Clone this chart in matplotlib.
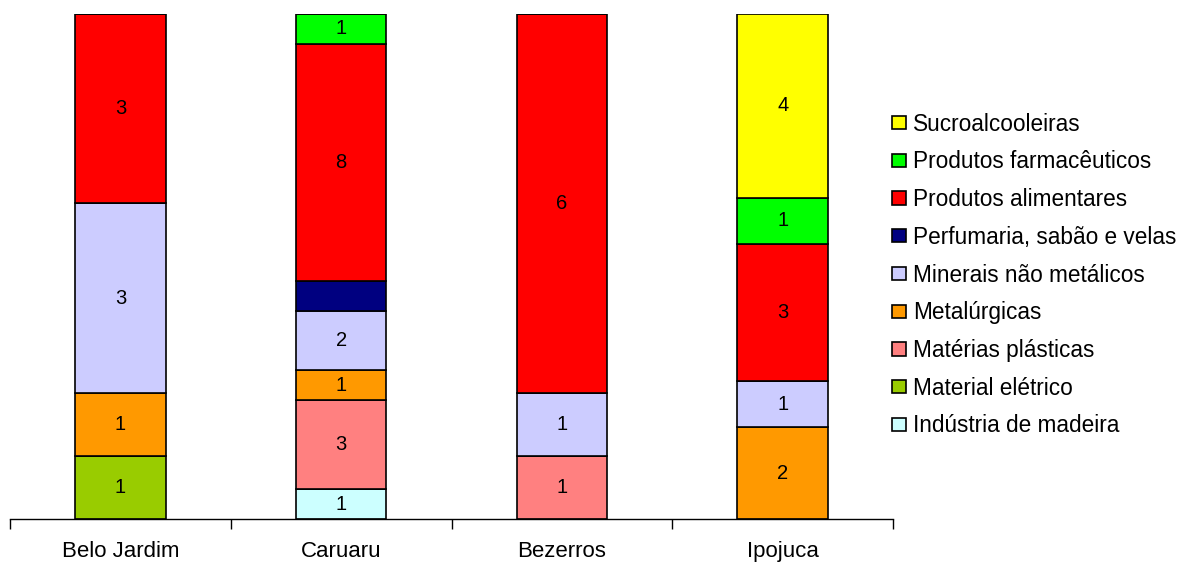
import matplotlib.pyplot as plt
import numpy as np

plt.rcParams['font.family'] = ['Liberation Sans', 'DejaVu Sans']

municipios = ["Belo Jardim", "Caruaru", "Bezerros", "Ipojuca"]

# setores de baixo para cima na pilha
setores = [
    "Indústria de madeira",
    "Material elétrico",
    "Matérias plásticas",
    "Metalúrgicas",
    "Minerais não metálicos",
    "Perfumaria, sabão e velas",
    "Produtos alimentares",
    "Produtos farmacêuticos",
    "Sucroalcooleiras",
]
cores = ["#CCFFFF", "#99CC00", "#FF8080", "#FF9900", "#CCCCFF",
         "#000080", "#FF0000", "#00FF00", "#FFFF00"]

# número de indústrias por setor (Belo Jardim, Caruaru, Bezerros, Ipojuca)
madeira = [0, 1, 0, 0]
eletrico = [1, 0, 0, 0]
plasticas = [0, 3, 1, 0]
metalurgicas = [1, 1, 0, 2]
minerais = [3, 2, 1, 1]
perfumaria = [0, 1, 0, 0]
alimentares = [3, 8, 6, 3]
farmaceuticos = [0, 1, 0, 1]
sucroalcooleiras = [0, 0, 0, 4]

dados = np.array([madeira, eletrico, plasticas, metalurgicas, minerais,
                  perfumaria, alimentares, farmaceuticos, sucroalcooleiras], dtype=float)
totais = dados.sum(axis=0)

fig = plt.figure(figsize=(11.87, 5.65), dpi=100)
ax = fig.add_axes([10 / 1187, 46 / 565, 883 / 1187, 505 / 565])

x = np.arange(len(municipios))
base = np.zeros(len(municipios))
barras = []
for nome, cor, vals in zip(setores, cores, dados):
    frac = vals / totais
    b = ax.bar(x, frac, 0.41, bottom=base, color=cor, edgecolor="black",
               linewidth=1.2, label=nome)
    barras.append(b)
    # rótulo preto some no azul-marinho, então não é desenhado
    if cor != "#000080":
        for xi, v, f, b0 in zip(x, vals, frac, base):
            if v > 0:
                ax.text(xi, b0 + f / 2, f"{int(v)}", ha="center", va="center",
                        fontsize=14.5, color="black")
    base += frac

ax.set_xlim(-0.5, len(municipios) - 0.5)
ax.set_ylim(0, 1)
for s in ["left", "right", "top"]:
    ax.spines[s].set_visible(False)
ax.spines["bottom"].set_linewidth(1)
ax.set_yticks([])
ax.set_xticks(x)
ax.set_xticklabels(municipios, fontsize=16)
ax.tick_params(axis="x", which="major", length=0, pad=16)
ax.set_xticks(np.arange(-0.5, len(municipios)), minor=True)
ax.tick_params(axis="x", which="minor", length=7, width=1, direction="out")

handles = barras[::-1]
fig.legend(handles, setores[::-1], loc="center left",
           bbox_to_anchor=(892 / 1187, 1 - 275 / 565), frameon=False,
           fontsize=16.3, handlelength=0.62, handleheight=0.53,
           handletextpad=0.31, labelspacing=0.65,
           borderpad=0, borderaxespad=0)

fig.savefig("out.png", dpi=100)
